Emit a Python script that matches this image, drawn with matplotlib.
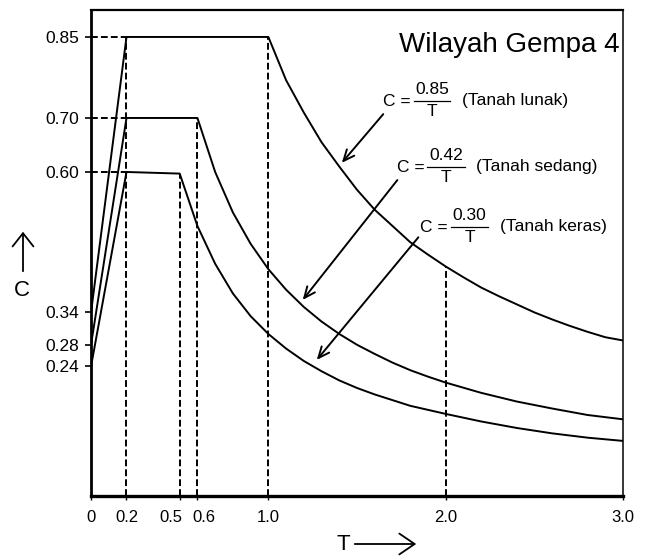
#!/usr/bin/env python

import matplotlib

matplotlib.use("Agg")
import matplotlib.pyplot as plt
from matplotlib.lines import Line2D
from matplotlib.patches import FancyArrowPatch
from matplotlib.transforms import Affine2D, ScaledTranslation

plt.rcParams["font.family"] = ["Liberation Sans", "DejaVu Sans"]

# Values
t_lunak = [0.0, 0.2, 1.0, 1.1, 1.2, 1.3, 1.4, 1.5, 1.6, 1.7, 1.8, 1.9, 2.0,
           2.1, 2.2, 2.3, 2.4, 2.5, 2.6, 2.7, 2.8, 2.9, 3.0]
c_lunak = [0.34, 0.85, 0.85, 0.77, 0.71, 0.655, 0.61, 0.567, 0.53, 0.50, 0.47, 0.447, 0.425,
           0.405, 0.386, 0.37, 0.355, 0.34, 0.327, 0.315, 0.304, 0.294, 0.288]

t_sedang = [0.0, 0.2, 0.6, 0.7, 0.8, 0.9, 1.0, 1.1, 1.2, 1.3, 1.4, 1.5, 1.6, 1.7, 1.8,
            1.9, 2.0, 2.2, 2.4, 2.6, 2.8, 3.0]
c_sedang = [0.28, 0.70, 0.70, 0.60, 0.525, 0.467, 0.42, 0.382, 0.35, 0.323, 0.30, 0.28, 0.263,
            0.247, 0.233, 0.221, 0.21, 0.191, 0.175, 0.162, 0.15, 0.142]

t_keras = [0.0, 0.2, 0.5, 0.6, 0.7, 0.8, 0.9, 1.0, 1.1, 1.2, 1.3, 1.4, 1.5, 1.6, 1.8,
           2.0, 2.2, 2.4, 2.6, 2.8, 3.0]
c_keras = [0.24, 0.60, 0.597, 0.50, 0.43, 0.375, 0.333, 0.30, 0.273, 0.25, 0.231, 0.214, 0.20,
           0.188, 0.167, 0.152, 0.138, 0.126, 0.116, 0.108, 0.102]

x_ticks = [0, 0.2, 0.5, 0.6, 1.0, 2.0, 3.0]
x_tick_labels = ["0", "0.2", "0.5", "0.6", "1.0", "2.0", "3.0"]
y_ticks = [0.24, 0.28, 0.34, 0.60, 0.70, 0.85]
y_tick_labels = ["0.24", "0.28", "0.34", "0.60", "0.70", "0.85"]

# dashed guide lines: (T, C) corner points
guide_t = [0.2, 0.5, 0.6, 1.0, 2.0]
guide_c = [0.85, 0.597, 0.70, 0.85, 0.425]
plateau_c = [0.85, 0.70, 0.60]

numerators = ["0.85", "0.42", "0.30"]
soil_names = ["(Tanah lunak)", "(Tanah sedang)", "(Tanah keras)"]
arrow_start = [(1.658, 0.711), (1.737, 0.589), (1.856, 0.483)]
arrow_end = [(1.404, 0.613), (1.184, 0.359), (1.263, 0.248)]


def plot_guides(ax):
    dash = (0, (3.5, 1.6))
    for t, c in zip(guide_t, guide_c):
        ax.plot([t, t], [0, c], color="k", lw=1.4, ls=dash)
    for c in plateau_c:
        ax.plot([0, 0.2], [c, c], color="k", lw=1.4, ls=dash)


def plot_formula(fig, px, numerator, name, x_c, y_mid, x0, x1, x_name):
    xm = (x0 + x1) / 2
    fig.text(x_c, y_mid, "C =", transform=px, fontsize=12.5, ha="left", va="center")
    fig.lines.append(Line2D([x0, x1], [y_mid, y_mid], transform=px, color="k", lw=0.9))
    fig.text(xm, y_mid - 11, numerator, transform=px, fontsize=12.5, ha="center", va="center")
    fig.text(xm, y_mid + 10, "T", transform=px, fontsize=12.5, ha="center", va="center")
    fig.text(x_name, y_mid, name, transform=px, fontsize=12.5, ha="left", va="center")


def plot_spectrum():
    fig = plt.figure(figsize=(6.53, 5.6), dpi=100)
    ax = fig.add_axes([0.1394, 0.1143, 0.8147, 0.8679])

    # pixel coordinates measured from the top-left corner of the picture
    px = Affine2D().scale(1 / 653, -1 / 560).translate(0, 1) + fig.transFigure

    plot_guides(ax)

    for t, c in [(t_lunak, c_lunak), (t_sedang, c_sedang), (t_keras, c_keras)]:
        ax.plot(t, c, color="k", lw=1.4, solid_joinstyle="round")

    ax.set_xlim(0, 3.0)
    ax.set_ylim(0, 0.9)

    ax.set_xticks(x_ticks)
    ax.set_xticklabels(x_tick_labels, fontsize=12)
    ax.set_yticks(y_ticks)
    ax.set_yticklabels(y_tick_labels, fontsize=12.5)
    ax.tick_params(axis="x", direction="out", length=3, width=1, pad=7)
    ax.tick_params(axis="y", direction="out", length=4.5, width=1.2, pad=4)

    # pull the crowded 0.5 / 0.6 labels apart like the original
    xlabels = ax.get_xticklabels()
    xlabels[2].set_ha("right")
    xlabels[2].set_transform(xlabels[2].get_transform() + ScaledTranslation(3 / 100, 0, fig.dpi_scale_trans))
    xlabels[3].set_ha("left")
    xlabels[3].set_transform(xlabels[3].get_transform() + ScaledTranslation(-5 / 100, 0, fig.dpi_scale_trans))

    ax.spines["left"].set_linewidth(2.0)
    ax.spines["bottom"].set_linewidth(2.4)
    ax.spines["top"].set_linewidth(1.6)
    ax.spines["right"].set_linewidth(1.1)

    ax.text(2.978, 0.835, "Wilayah Gempa 4", fontsize=20, ha="right", va="center")

    plot_formula(fig, px, numerators[0], soil_names[0], 383, 101, 414, 450, 462)
    plot_formula(fig, px, numerators[1], soil_names[1], 397, 167, 427, 465, 476)
    plot_formula(fig, px, numerators[2], soil_names[2], 420, 227, 451, 488, 500)

    for (x0, y0), (x1, y1) in zip(arrow_start, arrow_end):
        ax.annotate(
            "",
            xy=(x1, y1),
            xytext=(x0, y0),
            arrowprops=dict(arrowstyle="->,head_length=0.8,head_width=0.35", color="k", lw=1.4),
        )

    # axis names with their arrows
    fig.text(22, 290, "C", transform=px, fontsize=16, ha="center", va="center")
    fig.patches.append(
        FancyArrowPatch(
            (23, 274), (23, 229), transform=px, mutation_scale=10,
            arrowstyle="->,head_length=0.95,head_width=0.75", color="k", lw=1.3,
        )
    )
    fig.text(343, 544, "T", transform=px, fontsize=16, ha="center", va="center")
    fig.patches.append(
        FancyArrowPatch(
            (352, 544), (419, 544), transform=px, mutation_scale=10,
            arrowstyle="->,head_length=1.1,head_width=0.75", color="k", lw=1.3,
        )
    )

    fig.savefig("out.png", dpi=100)


if __name__ == "__main__":
    plot_spectrum()
